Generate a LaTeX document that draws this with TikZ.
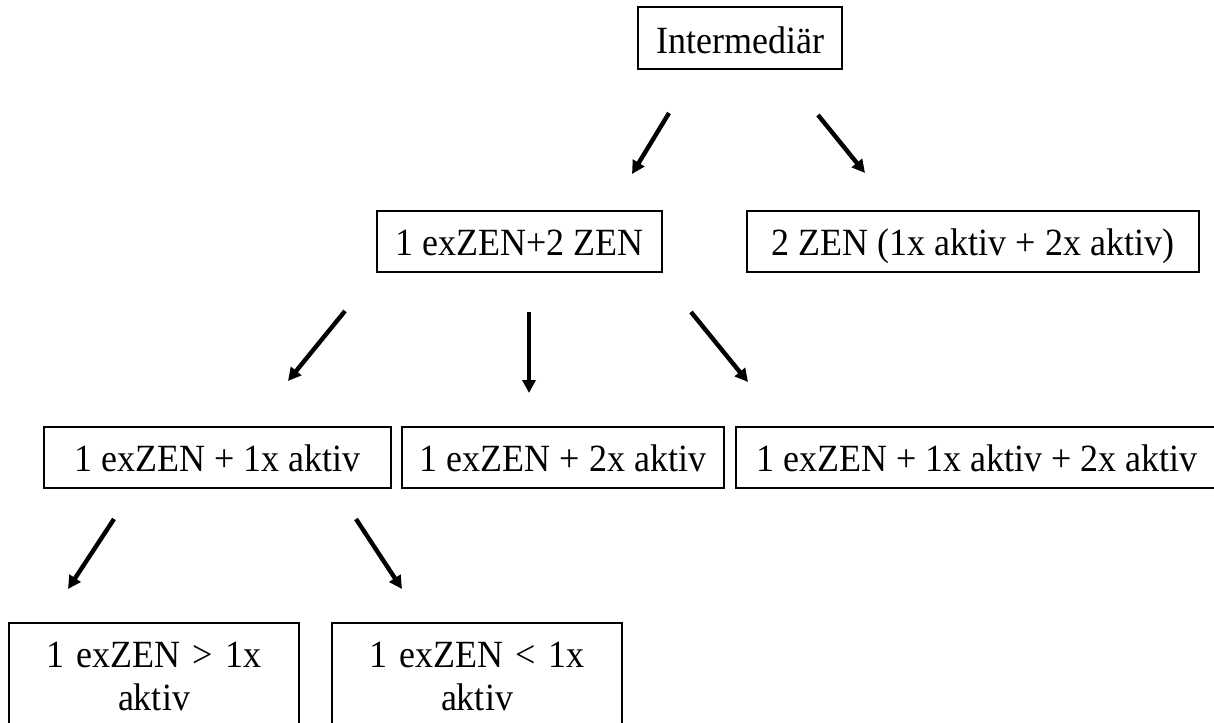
\documentclass[tikz,border=0pt]{standalone}
\usepackage{fontspec}
\setmainfont{Liberation Serif}
\usetikzlibrary{arrows.meta}
% slightly taller lettering
\newcommand{\vstretch}[1]{\scalebox{1}[1.07]{#1}}
\begin{document}
\begin{tikzpicture}[x=1pt,y=-1pt,
  box/.style={draw, line width=1.6pt, inner xsep=0pt, inner ysep=0pt,
    anchor=base, font=\fontsize{36}{43}\selectfont,
    text height=44pt, text depth=17pt},
  twoline/.style={box, align=center, text depth=80pt},
  arr/.style={line width=4.4pt, -{Triangle[length=13pt,width=13pt]}}]
\clip (0,0) rectangle (1214,722);
\fill[white] (0,0) rectangle (1214,722);

% boxes
\node[box, minimum width=204pt, text height=47pt, text depth=15pt] (top) at (740,54) {\vstretch{Intermediär}};
\node[box, minimum width=285pt] (mid) at (519.5,255) {\vstretch{1 exZEN+2 ZEN}};
\node[box, minimum width=452pt] (zen) at (973,255) {\vstretch{2 ZEN (1x aktiv + 2x aktiv)}};
\node[box, minimum width=347pt] (ra) at (217.5,471) {\vstretch{1 exZEN + 1x aktiv}};
\node[box, minimum width=322pt] (rb) at (563,471) {\vstretch{1 exZEN + 2x aktiv}};
\node[box, minimum width=482pt] (rc) at (977,471) {\vstretch{1 exZEN + 1x aktiv + 2x aktiv}};
\node[twoline, text width=290pt] (ba) at (154,667) {\vstretch{1 exZEN > 1x}\\\vstretch{aktiv}};
\node[twoline, text width=290pt] (bb) at (477,667) {\vstretch{1 exZEN < 1x}\\\vstretch{aktiv}};

% arrow ends
\coordinate (t1s) at (669,113); \coordinate (t1e) at (632,174);
\coordinate (t2s) at (818,115); \coordinate (t2e) at (865,173);
\coordinate (m1s) at (345,311); \coordinate (m1e) at (288,381);
\coordinate (m2s) at (529,312); \coordinate (m2e) at (529,393);
\coordinate (m3s) at (691,312); \coordinate (m3e) at (748,382);
\coordinate (r1s) at (114,519); \coordinate (r1e) at (68,589);
\coordinate (r2s) at (356,519); \coordinate (r2e) at (402,589);

% arrows
\draw[arr] (t1s) -- (t1e);
\draw[arr] (t2s) -- (t2e);
\draw[arr] (m1s) -- (m1e);
\draw[arr] (m2s) -- (m2e);
\draw[arr] (m3s) -- (m3e);
\draw[arr] (r1s) -- (r1e);
\draw[arr] (r2s) -- (r2e);
\end{tikzpicture}
\end{document}
